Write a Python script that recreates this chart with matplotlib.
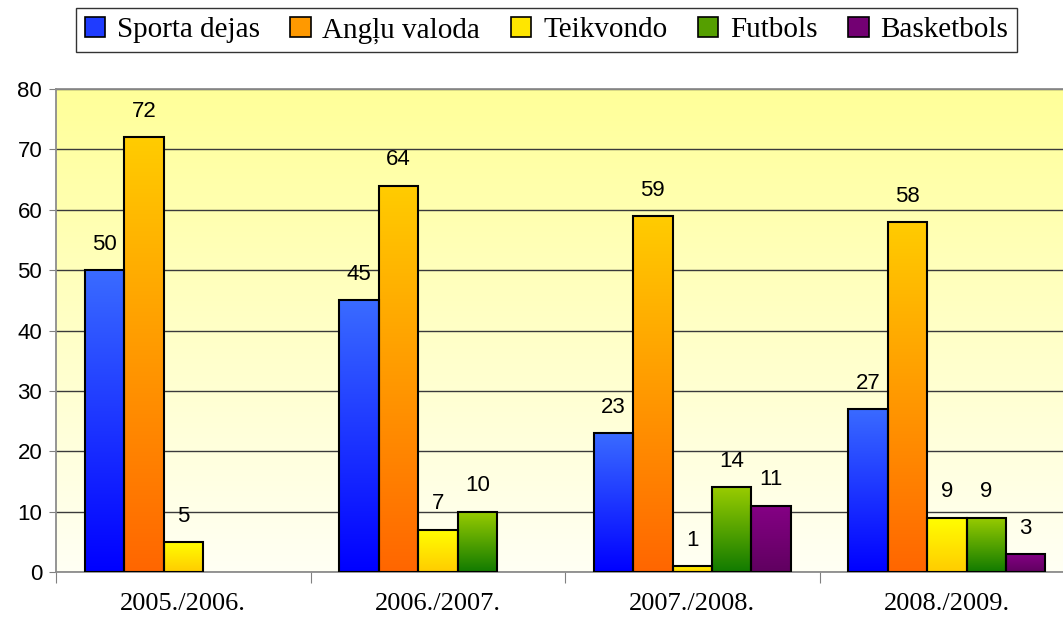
import numpy as np
import matplotlib
matplotlib.use("Agg")
import matplotlib.pyplot as plt
from matplotlib.colors import LinearSegmentedColormap
from matplotlib.patches import Patch

# data
seasons = ["2005./2006.", "2006./2007.", "2007./2008.", "2008./2009."]
sport = [50, 45, 23, 27]
english = [72, 64, 59, 58]
taekwondo = [5, 7, 1, 9]
football = [np.nan, 10, 14, 9]
basketball = [np.nan, np.nan, 11, 3]
series_names = ["Sporta dejas", "Angļu valoda", "Teikvondo", "Futbols", "Basketbols"]
series = [sport, english, taekwondo, football, basketball]

# (top colour, bottom colour) for each series
grads = [("#3a6bff", "#0000ff"),
         ("#ffcc00", "#ff6600"),
         ("#ffff00", "#ffcc00"),
         ("#99cc00", "#117a00"),
         ("#850085", "#600060")]
legend_cols = ["#1f3cff", "#ff9900", "#ffe600", "#559f00", "#730073"]


def gradient_bar(ax, patch, top, bottom):
    x, y = patch.get_x(), patch.get_y()
    w, h = patch.get_width(), patch.get_height()
    cmap = LinearSegmentedColormap.from_list("g", [bottom, top])
    grad = np.linspace(0, 1, 256).reshape(-1, 1)
    im = ax.imshow(grad, cmap=cmap, origin="lower", aspect="auto",
                   extent=[x, x + w, y, y + h], zorder=2)
    im.set_clip_path(patch)


fig = plt.figure(figsize=(10.63, 6.19), dpi=100)
# the plot area runs a little past the right edge of the image
ax = fig.add_axes([0.0527, 0.0759, 0.9577, 0.7803])

# background gradient of the plot area
bg = LinearSegmentedColormap.from_list("bg", ["#fffff4", "#ffff99"])
ax.imshow(np.linspace(0, 1, 256).reshape(-1, 1), cmap=bg, origin="lower",
          aspect="auto", extent=[0, 1, 0, 1], transform=ax.transAxes, zorder=0)

n = len(series)
width = 0.155
x = np.arange(len(seasons))
for i, (vals, (top, bottom)) in enumerate(zip(series, grads)):
    pos = x + (i - (n - 1) / 2) * width
    bars = ax.bar(pos, np.nan_to_num(vals), width, facecolor="none",
                  edgecolor="black", linewidth=1.5, zorder=3)
    for b, v in zip(bars, vals):
        if np.isnan(v):
            b.set_visible(False)
            continue
        gradient_bar(ax, b, top, bottom)
    labels = ["" if np.isnan(v) else f"{v:g}" for v in vals]
    ax.bar_label(bars, labels=labels, padding=11, fontsize=16,
                 family="Liberation Sans", zorder=4)

ax.set_xlim(-0.5, len(seasons) - 0.5)
ax.set_ylim(0, 80)
ax.set_yticks(range(0, 81, 10))
ax.yaxis.grid(True, color="#3a3a3a", linewidth=1.0, zorder=1)
ax.set_axisbelow(True)

ax.set_xticks(np.arange(len(seasons) + 1) - 0.5)
ax.set_xticklabels([])
ax.set_xticks(x, minor=True)
ax.set_xticklabels(seasons, minor=True, family="Liberation Serif", fontsize=19)
ax.tick_params(axis="x", which="major", length=8, color="#808080")
ax.tick_params(axis="x", which="minor", length=0, pad=15)
ax.tick_params(axis="y", length=5, color="#808080", pad=5)
for lab in ax.get_yticklabels():
    lab.set_family("Liberation Sans")
    lab.set_fontsize(16)

for s in ["left", "bottom", "top"]:
    ax.spines[s].set_color("#8c8c8c")
    ax.spines[s].set_linewidth(1.3)
ax.spines["right"].set_visible(False)

handles = [Patch(facecolor=c, edgecolor="black", linewidth=1.2) for c in legend_cols]
fig.legend(handles, series_names, loc="center", bbox_to_anchor=(0.514, 0.951),
           ncol=5, frameon=True, fancybox=False, edgecolor="black",
           prop={"family": "Liberation Serif", "size": 21},
           handlelength=0.7, handleheight=0.7, handletextpad=0.4,
           columnspacing=1.05, borderpad=0.3)

fig.savefig("out.png", dpi=100)
